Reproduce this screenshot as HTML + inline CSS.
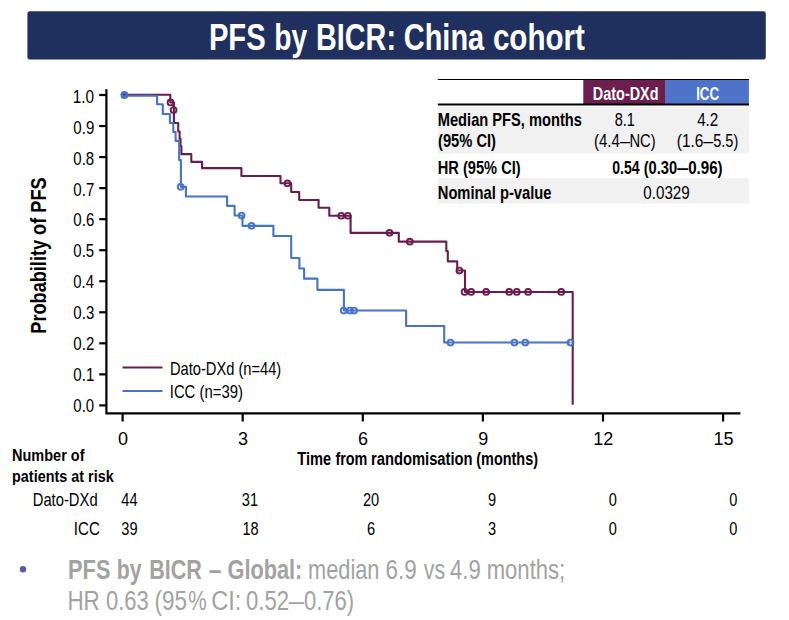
<!DOCTYPE html>
<html><head><meta charset="utf-8"><title>PFS by BICR: China cohort</title>
<style>html,body{margin:0;padding:0;background:#fff;}svg{display:block;}</style></head>
<body>
<svg width="789" height="620" viewBox="0 0 789 620" font-family="'Liberation Sans', sans-serif">
<rect width="789" height="620" fill="#fff"/>
<rect x="27.4" y="11.3" width="738.4" height="48.3" rx="2.5" fill="#1F305E"/>
<text transform="translate(208.90,49.8) scale(0.7745,1)" font-size="37.7" font-weight="bold" fill="#fff">PFS</text><text transform="translate(274.36,49.8) scale(0.7492,1)" font-size="37.7" font-weight="bold" fill="#fff">by</text><text transform="translate(316.03,49.8) scale(0.7641,1)" font-size="37.7" font-weight="bold" fill="#fff">BICR:</text><text transform="translate(403.84,49.8) scale(0.7672,1)" font-size="37.7" font-weight="bold" fill="#fff">China</text><text transform="translate(492.89,49.8) scale(0.7847,1)" font-size="37.7" font-weight="bold" fill="#fff">cohort</text>
<g stroke="#000" stroke-width="2.2" fill="none">
<path d="M106.4,89.3 V413.3 H740.4"/>
<path d="M99.2,95.00 H106.4"/>
<path d="M99.2,126.04 H106.4"/>
<path d="M99.2,157.08 H106.4"/>
<path d="M99.2,188.12 H106.4"/>
<path d="M99.2,219.16 H106.4"/>
<path d="M99.2,250.20 H106.4"/>
<path d="M99.2,281.24 H106.4"/>
<path d="M99.2,312.28 H106.4"/>
<path d="M99.2,343.32 H106.4"/>
<path d="M99.2,374.36 H106.4"/>
<path d="M99.2,405.40 H106.4"/>
<path d="M122.60,413.3 V421.5"/>
<path d="M242.70,413.3 V421.5"/>
<path d="M362.80,413.3 V421.5"/>
<path d="M482.90,413.3 V421.5"/>
<path d="M603.00,413.3 V421.5"/>
<path d="M723.10,413.3 V421.5"/>
</g>
<text transform="translate(72.74,103.0) scale(0.8567,1)" font-size="18.0">1.0</text>
<text transform="translate(73.33,133.87) scale(0.8371,1)" font-size="18.0">0.9</text>
<text transform="translate(73.34,164.74) scale(0.8339,1)" font-size="18.0">0.8</text>
<text transform="translate(73.33,195.61) scale(0.8387,1)" font-size="18.0">0.7</text>
<text transform="translate(73.34,226.48) scale(0.8355,1)" font-size="18.0">0.6</text>
<text transform="translate(73.34,257.35) scale(0.8339,1)" font-size="18.0">0.5</text>
<text transform="translate(73.34,288.22) scale(0.8260,1)" font-size="18.0">0.4</text>
<text transform="translate(73.34,319.09) scale(0.8355,1)" font-size="18.0">0.3</text>
<text transform="translate(73.33,349.96) scale(0.8387,1)" font-size="18.0">0.2</text>
<text transform="translate(73.33,380.83) scale(0.8387,1)" font-size="18.0">0.1</text>
<text transform="translate(73.34,411.7) scale(0.8323,1)" font-size="18.0">0.0</text>
<text x="122.9" y="445.4" font-size="18.0" text-anchor="middle">0</text>
<text x="243.0" y="445.4" font-size="18.0" text-anchor="middle">3</text>
<text x="363.1" y="445.4" font-size="18.0" text-anchor="middle">6</text>
<text x="483.2" y="445.4" font-size="18.0" text-anchor="middle">9</text>
<text x="603.3" y="445.4" font-size="18.0" text-anchor="middle">12</text>
<text x="723.4" y="445.4" font-size="18.0" text-anchor="middle">15</text>
<text transform="translate(46.3,333.7) rotate(-90)" font-size="22.9" font-weight="bold" textLength="156.3" lengthAdjust="spacingAndGlyphs">Probability of PFS</text>
<text transform="translate(297.25,465) scale(0.8232,1)" font-size="17.8" font-weight="bold">Time</text><text transform="translate(335.38,465) scale(0.8093,1)" font-size="17.8" font-weight="bold">from</text><text transform="translate(370.94,465) scale(0.8296,1)" font-size="17.8" font-weight="bold">randomisation</text><text transform="translate(476.32,465) scale(0.8100,1)" font-size="17.8" font-weight="bold">(months)</text>
<g transform="translate(0.2,0.15)" fill="none" stroke="#6B1C4F" stroke-width="2.1" stroke-linejoin="round">
<path d="M124.3,94.6 H170.1 V102.3 H173.7 V122.8 H178.0 V131.3 H179.4 V138.5 H180.3 V145.9 H181.2 V154.0 H191.1 V161.7 H201.9 V168.0 H241.2 V175.8 H280.3 V183.1 H291.0 V191.8 H299.0 V199.8 H318.4 V207.6 H329.1 V215.6 H350.4 V232.7 H398.6 V241.5 H446.1 V250.9 H447.6 V261.2 H457.0 V270.4 H464.8 V291.8 H572.5 V404.7"/>
<circle cx="170.3" cy="102.3" r="2.9" stroke-width="1.9"/>
<circle cx="173.4" cy="109.9" r="2.9" stroke-width="1.9"/>
<circle cx="287.2" cy="183.2" r="2.9" stroke-width="1.9"/>
<circle cx="341.0" cy="215.6" r="2.9" stroke-width="1.9"/>
<circle cx="347.6" cy="215.6" r="2.9" stroke-width="1.9"/>
<circle cx="389.3" cy="232.7" r="2.9" stroke-width="1.9"/>
<circle cx="409.6" cy="241.5" r="2.9" stroke-width="1.9"/>
<circle cx="459.2" cy="270.4" r="2.9" stroke-width="1.9"/>
<circle cx="464.4" cy="291.8" r="2.9" stroke-width="1.9"/>
<circle cx="471.0" cy="291.8" r="2.9" stroke-width="1.9"/>
<circle cx="485.9" cy="291.8" r="2.9" stroke-width="1.9"/>
<circle cx="509.0" cy="291.8" r="2.9" stroke-width="1.9"/>
<circle cx="516.6" cy="291.8" r="2.9" stroke-width="1.9"/>
<circle cx="527.9" cy="291.8" r="2.9" stroke-width="1.9"/>
<circle cx="561.0" cy="291.8" r="2.9" stroke-width="1.9"/>
</g>
<g transform="translate(0.2,0.15)" fill="none" stroke="#4573C6" stroke-width="2.1" stroke-linejoin="round">
<path d="M124.3,95.65 H156.9 V104.1 H162.6 V113.8 H169.7 V122.8 H173.1 V131.8 H175.4 V140.7 H179.0 V159.9 H180.7 V186.7 H185.7 V196.4 H226.9 V205.7 H234.4 V215.4 H242.3 V225.7 H273.2 V235.8 H291.0 V257.8 H299.2 V268.4 H303.9 V278.5 H317.2 V289.7 H343.7 V310.4 H405.9 V325.8 H444.0 V342.4 H570.2"/>
<circle cx="180.5" cy="186.7" r="2.9" stroke-width="1.9"/>
<circle cx="241.4" cy="215.4" r="2.9" stroke-width="1.9"/>
<circle cx="251.3" cy="225.7" r="2.9" stroke-width="1.9"/>
<circle cx="343.5" cy="310.4" r="2.9" stroke-width="1.9"/>
<circle cx="349.8" cy="310.4" r="2.9" stroke-width="1.9"/>
<circle cx="353.9" cy="310.4" r="2.9" stroke-width="1.9"/>
<circle cx="450.3" cy="342.4" r="2.9" stroke-width="1.9"/>
<circle cx="514.2" cy="342.4" r="2.9" stroke-width="1.9"/>
<circle cx="525.1" cy="342.4" r="2.9" stroke-width="1.9"/>
<circle cx="570.3" cy="342.4" r="2.9" stroke-width="1.9"/>
</g>
<circle cx="124.4" cy="95.05" r="2.95" fill="#4F7ACB" stroke="#4573C6" stroke-width="2"/>
<path d="M123.0,94.6 H125.8" stroke="#6B1C4F" stroke-width="1.1"/>
<path d="M122.5,367.5 H162.5" stroke="#6B1C4F" stroke-width="2"/>
<path d="M122.5,390.9 H162.5" stroke="#4573C6" stroke-width="2"/>
<text transform="translate(169.92,374.7) scale(0.8161,1)" font-size="18.0">Dato-DXd (n=44)</text>
<text transform="translate(169.76,397.8) scale(0.8262,1)" font-size="18.0">ICC (n=39)</text>
<rect x="437.8" y="106.6" width="311.2" height="46.9" fill="#F1F1F1"/>
<rect x="437.8" y="178.2" width="311.2" height="25.4" fill="#F1F1F1"/>
<rect x="583.3" y="80.0" width="82.4" height="24.2" fill="#6B1F4F"/>
<rect x="665.7" y="80.0" width="83.2" height="24.2" fill="#4D74C8"/>
<path d="M437.8,79.45 H749" stroke="#000" stroke-width="1.15"/>
<path d="M437.8,104.55 H749" stroke="#000" stroke-width="1.9"/>
<text transform="translate(592.86,99.7) scale(0.8010,1)" font-size="18.0" font-weight="bold" fill="#fff">Dato-DXd</text>
<text transform="translate(696.13,99.7) scale(0.7396,1)" font-size="18.0" font-weight="bold" fill="#fff">ICC</text>
<text transform="translate(437.75,125.6) scale(0.8153,1)" font-size="18.0" font-weight="bold">Median PFS, months</text>
<text transform="translate(438.00,146.8) scale(0.8167,1)" font-size="18.0" font-weight="bold">(95% CI)</text>
<text transform="translate(614.68,125.5) scale(0.8077,1)" font-size="18.0">8.1</text>
<text transform="translate(594.00,146.6) scale(0.8325,1)" font-size="18.0">(4.4</text><text transform="translate(620.00,146.6) scale(0.9965,1)" font-size="18.0">–</text><text transform="translate(629.42,146.6) scale(0.8176,1)" font-size="18.0">NC)</text>
<text transform="translate(697.16,125.5) scale(0.8460,1)" font-size="18.0">4.2</text>
<text transform="translate(676.78,146.6) scale(0.8539,1)" font-size="18.0">(1.6</text><text transform="translate(703.20,146.6) scale(0.9965,1)" font-size="18.0">–</text><text transform="translate(713.22,146.6) scale(0.8081,1)" font-size="18.0">5.5)</text>
<text transform="translate(437.75,174) scale(0.8131,1)" font-size="18.0" font-weight="bold">HR (95% CI)</text>
<text transform="translate(612.17,174) scale(0.7816,1)" font-size="18.0" font-weight="bold">0.54</text><text transform="translate(643.70,174) scale(0.8134,1)" font-size="18.0" font-weight="bold">(0.30</text><text transform="translate(676.44,174) scale(1.2284,1)" font-size="18.0" font-weight="bold">–</text><text transform="translate(688.13,174) scale(0.8403,1)" font-size="18.0" font-weight="bold">0.96)</text>
<text transform="translate(437.74,199) scale(0.8189,1)" font-size="18.0" font-weight="bold">Nominal p-value</text>
<text transform="translate(643.33,198.5) scale(0.8441,1)" font-size="18.0">0.0329</text>
<text transform="translate(12.06,461) scale(0.8530,1)" font-size="17.0" font-weight="bold">Number of</text>
<text transform="translate(12.06,482) scale(0.8468,1)" font-size="17.0" font-weight="bold">patients at risk</text>
<text transform="translate(32.72,505.6) scale(0.8214,1)" font-size="18.0">Dato-DXd</text>
<text transform="translate(73.85,534.6) scale(0.8359,1)" font-size="18.0">ICC</text>
<text transform="translate(129.4,505.6) scale(0.81,1)" font-size="18.0" text-anchor="middle">44</text>
<text transform="translate(129.4,534.7) scale(0.81,1)" font-size="18.0" text-anchor="middle">39</text>
<text transform="translate(249.9,505.6) scale(0.81,1)" font-size="18.0" text-anchor="middle">31</text>
<text transform="translate(250.5,534.7) scale(0.81,1)" font-size="18.0" text-anchor="middle">18</text>
<text transform="translate(371.1,505.6) scale(0.81,1)" font-size="18.0" text-anchor="middle">20</text>
<text transform="translate(371.1,534.7) scale(0.81,1)" font-size="18.0" text-anchor="middle">6</text>
<text transform="translate(492.0,505.6) scale(0.81,1)" font-size="18.0" text-anchor="middle">9</text>
<text transform="translate(492.0,534.7) scale(0.81,1)" font-size="18.0" text-anchor="middle">3</text>
<text transform="translate(612.9,505.6) scale(0.81,1)" font-size="18.0" text-anchor="middle">0</text>
<text transform="translate(612.9,534.7) scale(0.81,1)" font-size="18.0" text-anchor="middle">0</text>
<text transform="translate(733.2,505.6) scale(0.81,1)" font-size="18.0" text-anchor="middle">0</text>
<text transform="translate(733.2,534.7) scale(0.81,1)" font-size="18.0" text-anchor="middle">0</text>
<circle cx="23.0" cy="569.3" r="3.2" fill="#525EA0"/>
<text transform="translate(68.08,578.6) scale(0.8141,1)" font-size="26.8" font-weight="bold" fill="#A2A2A2">PFS</text><text transform="translate(116.82,578.6) scale(0.7922,1)" font-size="26.8" font-weight="bold" fill="#A2A2A2">by</text><text transform="translate(149.20,578.6) scale(0.8048,1)" font-size="26.8" font-weight="bold" fill="#A2A2A2">BICR</text><text transform="translate(208.71,578.6) scale(0.8550,1)" font-size="26.8" font-weight="bold" fill="#A2A2A2">–</text><text transform="translate(227.53,578.6) scale(0.8105,1)" font-size="26.8" font-weight="bold" fill="#A2A2A2">Global:</text>
<text transform="translate(307.98,578.6) scale(0.8138,1)" font-size="26.8" fill="#A2A2A2">median</text><text transform="translate(385.48,578.6) scale(0.8356,1)" font-size="26.8" fill="#A2A2A2">6.9</text><text transform="translate(423.75,578.6) scale(0.7947,1)" font-size="26.8" fill="#A2A2A2">vs</text><text transform="translate(450.00,578.6) scale(0.8239,1)" font-size="26.8" fill="#A2A2A2">4.9</text><text transform="translate(486.66,578.6) scale(0.8252,1)" font-size="26.8" fill="#A2A2A2">months;</text>
<text transform="translate(67.41,610.4) scale(0.8367,1)" font-size="26.8" fill="#A2A2A2">HR</text><text transform="translate(105.98,610.4) scale(0.8203,1)" font-size="26.8" fill="#A2A2A2">0.63</text><text transform="translate(154.45,610.4) scale(0.8378,1)" font-size="26.8" fill="#A2A2A2">(95</text><text transform="translate(188.17,610.4) scale(0.7781,1)" font-size="26.8" fill="#A2A2A2">%</text><text transform="translate(211.22,610.4) scale(0.8791,1)" font-size="26.8" fill="#A2A2A2">CI:</text><text transform="translate(246.07,610.4) scale(0.8245,1)" font-size="26.8" fill="#A2A2A2">0.52</text><text transform="translate(288.80,610.4) scale(1.0173,1)" font-size="26.8" fill="#A2A2A2">–</text><text transform="translate(303.98,610.4) scale(0.8206,1)" font-size="26.8" fill="#A2A2A2">0.76)</text>
</svg>
</body></html>
